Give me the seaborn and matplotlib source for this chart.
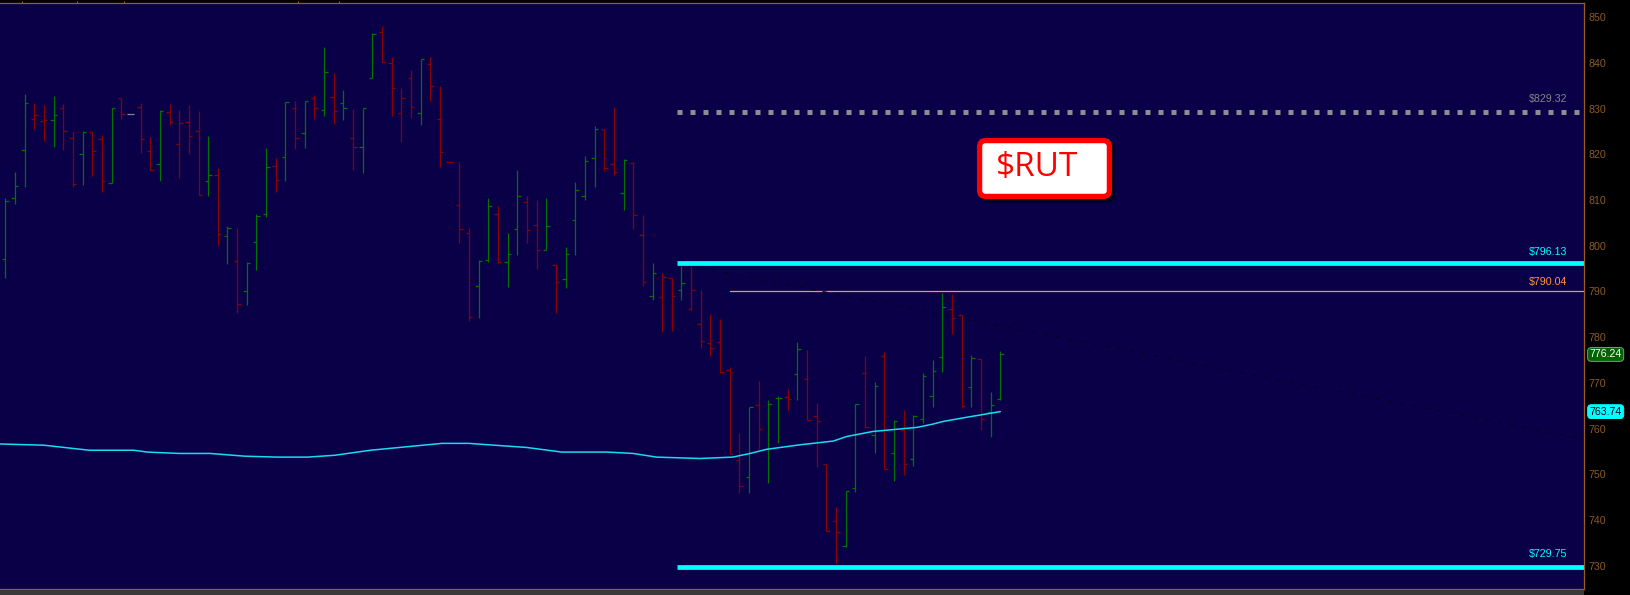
import numpy as np
import pandas as pd
import seaborn as sns
import matplotlib.pyplot as plt
from matplotlib.patches import FancyBboxPatch, Rectangle

# daily OHLC for $RUT
opens = [797.03, 810.36, 820.86, 827.70, 827.19, 827.41, 830.04, 823.48, 819.98, 824.79,
         823.26, 813.64, 832.22, 828.72, 830.26, 820.64, 817.80, 829.16, 822.17, 826.98,
         825.01, 814.08, 815.39, 802.06, 796.59, 790.04, 800.75, 806.87, 817.43, 819.33,
         830.04, 824.57, 832.22, 829.60, 832.44, 831.13, 823.48, 821.51, 836.59, 846.65,
         839.95, 828.94, 836.59, 828.94, 839.65, 827.63, 818.23, 808.84, 802.72, 791.13,
         796.81, 806.87, 796.37, 803.59, 809.49, 804.46, 799.00, 795.72, 792.66, 805.56,
         810.80, 819.11, 825.45, 817.80, 811.46, 818.01, 802.28, 788.94, 788.73, 792.88,
         790.26, 786.25, 782.82, 778.67, 778.89, 772.77, 753.17, 749.38, 765.19, 755.50,
         766.65, 766.87, 771.89, 770.80, 762.72, 752.22, 739.76, 734.30, 746.98, 772.11,
         758.56, 775.83, 754.63, 759.66, 753.32, 762.06, 767.09, 775.61, 786.17, 784.79,
         769.05, 775.25, 763.59, 766.43]
highs = [810.44, 816.12, 833.17, 831.20, 830.77, 832.73, 831.06, 825.08, 825.08, 824.79,
         824.21, 830.11, 832.22, 828.72, 831.20, 823.77, 829.67, 830.98, 829.67, 830.77,
         829.45, 823.99, 817.07, 804.32, 803.88, 796.45, 806.94, 821.37, 819.18, 831.42,
         831.64, 831.64, 832.95, 843.44, 837.76, 834.04, 829.89, 830.11, 846.50, 848.03,
         841.18, 834.55, 838.49, 840.82, 841.26, 834.92, 818.23, 818.31, 803.88, 796.89,
         810.44, 808.69, 802.79, 816.56, 810.87, 810.00, 810.44, 795.79, 799.73, 813.93,
         819.62, 826.18, 825.45, 830.33, 818.96, 818.31, 806.72, 796.23, 794.12, 793.02,
         795.65, 795.65, 790.33, 785.08, 783.99, 773.50, 759.14, 764.75, 770.44, 766.28,
         767.16, 768.69, 778.96, 777.29, 765.63, 752.22, 742.90, 746.39, 765.41, 775.90,
         770.22, 776.78, 761.91, 764.10, 763.01, 772.19, 775.03, 789.67, 789.45, 784.79,
         776.12, 775.25, 768.03, 776.92]
lows = [792.88, 809.20, 812.92, 825.59, 822.97, 821.66, 821.00, 812.92, 813.35, 815.32,
        811.82, 813.64, 827.78, 828.72, 820.35, 816.49, 814.23, 826.47, 814.88, 820.06,
        811.02, 810.95, 800.24, 796.08, 785.37, 787.12, 794.77, 806.36, 811.82, 814.23,
        821.22, 821.44, 827.78, 828.43, 826.69, 827.56, 816.63, 815.97, 836.59, 840.09,
        828.43, 822.75, 828.00, 826.47, 831.71, 817.14, 818.23, 800.67, 783.62, 784.28,
        796.52, 796.30, 791.06, 798.05, 800.67, 794.84, 799.00, 785.37, 790.84, 798.05,
        810.07, 812.92, 816.41, 815.54, 807.89, 803.73, 791.27, 788.22, 781.22, 781.44,
        788.22, 785.96, 777.72, 775.97, 772.11, 754.41, 745.88, 745.88, 755.58, 748.21,
        756.96, 764.17, 766.36, 761.91, 751.71, 737.58, 730.58, 734.08, 746.25, 760.17,
        754.77, 751.13, 748.65, 749.96, 751.93, 761.33, 764.83, 772.48, 780.64, 764.46,
        764.83, 759.80, 758.27, 766.36]
closes = [809.72, 812.99, 831.13, 828.51, 827.41, 828.51, 825.01, 813.50, 824.79, 820.64,
          814.08, 830.04, 828.72, 828.72, 823.26, 816.49, 829.38, 826.98, 826.76, 823.92,
          811.02, 815.39, 802.49, 803.81, 787.20, 796.16, 806.43, 817.14, 814.30, 831.35,
          823.48, 831.57, 830.18, 837.98, 829.38, 830.04, 821.51, 830.04, 846.21, 840.09,
          834.41, 832.22, 830.26, 840.75, 834.85, 820.42, 818.23, 803.59, 784.35, 796.59,
          808.62, 796.37, 798.12, 810.80, 803.37, 799.00, 804.24, 792.00, 798.12, 812.11,
          818.45, 825.45, 816.92, 816.05, 818.66, 806.65, 792.00, 793.97, 793.10, 788.94,
          791.78, 790.26, 779.11, 777.58, 772.33, 754.41, 747.41, 764.68, 759.87, 765.41,
          766.65, 766.50, 777.43, 761.99, 761.77, 737.58, 737.36, 746.39, 765.41, 760.38,
          769.27, 751.13, 761.69, 752.37, 762.86, 771.60, 772.55, 786.54, 784.13, 764.90,
          775.39, 762.06, 765.12, 776.24]

# moving average (bar position, value)
ma_bar = [-1, 4, 8.7, 13.3, 14.7, 18, 21.2, 24.8, 28.1, 31.3, 34.1, 37.8, 45.2, 48,
          54, 57.6, 62.3, 65, 67.4, 71.9, 75.3, 77.1, 78.8, 82.3, 85.7, 87.1, 89.8,
          94.4, 96, 97.1, 99.5, 103]
ma_val = [756.7, 756.4, 755.3, 755.3, 754.9, 754.6, 754.6, 754.0, 753.8, 753.8, 754.2,
          755.3, 756.8, 756.8, 755.9, 754.9, 754.9, 754.6, 753.8, 753.5, 753.8, 754.6,
          755.5, 756.5, 757.3, 758.3, 759.4, 760.3, 761.0, 761.6, 762.5, 763.74]

# drawn levels
dotted_level = 829.32
upper_band = 796.13
mid_level = 790.04
lower_band = 729.75
band_start = 69.5
mid_start = 75.0
trend_bar = [71.9, 163.4]
trend_val = [795.2, 757.8]
last_close = 776.24
last_ma = 763.74
yticks = list(range(730, 851, 10))
top_marks = [1.76, 7.39, 12.32, 30.33, 34.58]

NAVY = '#0a0048'
BROWN = '#9c5c1c'
TXT_BROWN = '#8b5a26'
GREEN = '#007300'
RED = '#8a0000'

sns.set_style("dark", {"axes.facecolor": NAVY, "figure.facecolor": "black"})
plt.rcParams['font.family'] = ['Liberation Sans', 'DejaVu Sans']

fig = plt.figure(figsize=(16.3, 5.95), dpi=100)
ax = fig.add_axes([0, 6 / 595, 1584 / 1630, 586.5 / 595])
ax.set_facecolor(NAVY)

x = np.arange(len(closes))
cols = []
for i, c in enumerate(closes):
    if i == 0 or c > closes[i - 1]:
        cols.append(GREEN)
    elif c < closes[i - 1]:
        cols.append(RED)
    else:
        cols.append('#8c8c8c')

xmax = 163.43
# levels
ax.plot([band_start, xmax], [dotted_level] * 2, color='#8e8e8e', lw=3.6,
        ls=(0, (1, 1.6)), dash_capstyle='butt')
ax.plot([band_start, xmax], [upper_band] * 2, color='#00ffff', lw=3.4, solid_capstyle='butt')
ax.plot([band_start, xmax], [lower_band] * 2, color='#00ffff', lw=3.4, solid_capstyle='butt')
ax.plot([mid_start, xmax], [mid_level] * 2, color='#ff9a2e', lw=0.9)
ax.plot(trend_bar, trend_val, color='#03002e', lw=0.9, ls=(0, (4, 6)))

# OHLC bars
ax.vlines(x, lows, highs, colors=cols, lw=0.9)
ax.hlines(opens, x - 0.36, x, colors=cols, lw=0.9)
ax.hlines(closes, x, x + 0.36, colors=cols, lw=0.9)

# moving average
ma_df = pd.DataFrame({'bar': ma_bar, 'ma': ma_val})
sns.lineplot(data=ma_df, x='bar', y='ma', ax=ax, color='#1adcf0', lw=1.1,
             estimator=None, sort=False)

ax.set_xlim(-0.55, xmax)
ax.set_ylim(724.97, 853.17)
ax.set_xlabel('')
ax.set_ylabel('')
ax.grid(False)

ax.yaxis.tick_right()
ax.set_yticks(yticks)
ax.set_yticklabels([str(t) for t in yticks])
ax.tick_params(axis='y', length=0, pad=3, labelsize=7.7, labelcolor=TXT_BROWN)
ax.xaxis.tick_top()
ax.set_xticks(top_marks)
ax.set_xticklabels([])
ax.tick_params(axis='x', direction='out', length=1.8, width=0.8, color=BROWN)

for side in ['top', 'bottom', 'right']:
    ax.spines[side].set_visible(True)
    ax.spines[side].set_color(BROWN)
    ax.spines[side].set_linewidth(0.9)
ax.spines['left'].set_visible(False)

# price labels on lines
lab_tr = ax.get_yaxis_transform()
ax.text(0.9893, 832.08, '$829.32', transform=lab_tr, ha='right', va='center',
        fontsize=7.7, color='#858585')
ax.text(0.9893, 798.6, '$796.13', transform=lab_tr, ha='right', va='center',
        fontsize=7.7, color='#00ffff')
ax.text(0.9893, 792.08, '$790.04', transform=lab_tr, ha='right', va='center',
        fontsize=7.7, color='#ff9a2e')
ax.text(0.9893, 732.6, '$729.75', transform=lab_tr, ha='right', va='center',
        fontsize=7.7, color='#00ffff')

# boxed values on the price axis
ax.text(1.0035, last_close, f'{last_close:.2f}', transform=lab_tr, ha='left', va='center',
        fontsize=7.6, color='white', clip_on=False,
        bbox=dict(boxstyle='round,pad=0.18,rounding_size=0.35', fc='#006400', ec='#7aa07a', lw=0.7))
ax.text(1.0035, last_ma, f'{last_ma:.2f}', transform=lab_tr, ha='left', va='center',
        fontsize=7.6, color='black', clip_on=False,
        bbox=dict(boxstyle='round,pad=0.18,rounding_size=0.35', fc='#00ffff', ec='#00ffff', lw=0.7))

# overlay in pixel units for the ticker box and bottom strip
ov = fig.add_axes([0, 0, 1, 1])
ov.set_xlim(0, 1630)
ov.set_ylim(595, 0)
ov.axis('off')
ov.patch.set_alpha(0)
ov.add_patch(Rectangle((0, 590), 1584, 5, color='#3a3a3a', lw=0))
ov.add_patch(FancyBboxPatch((983, 144), 130, 56, boxstyle='round,pad=0,rounding_size=6',
                            fc='#050020', ec='#050020', lw=3.8))
ov.add_patch(FancyBboxPatch((979.6, 140.6), 129.8, 55.8, boxstyle='round,pad=0,rounding_size=6',
                            fc='white', ec='#ff0000', lw=3.8))
ov.text(996, 168, '$RUT', ha='left', va='center', fontsize=24, color='#ff0000',
        family=['Open Sans', 'DejaVu Sans'])

plt.savefig('out.png', dpi=100, facecolor='black')
